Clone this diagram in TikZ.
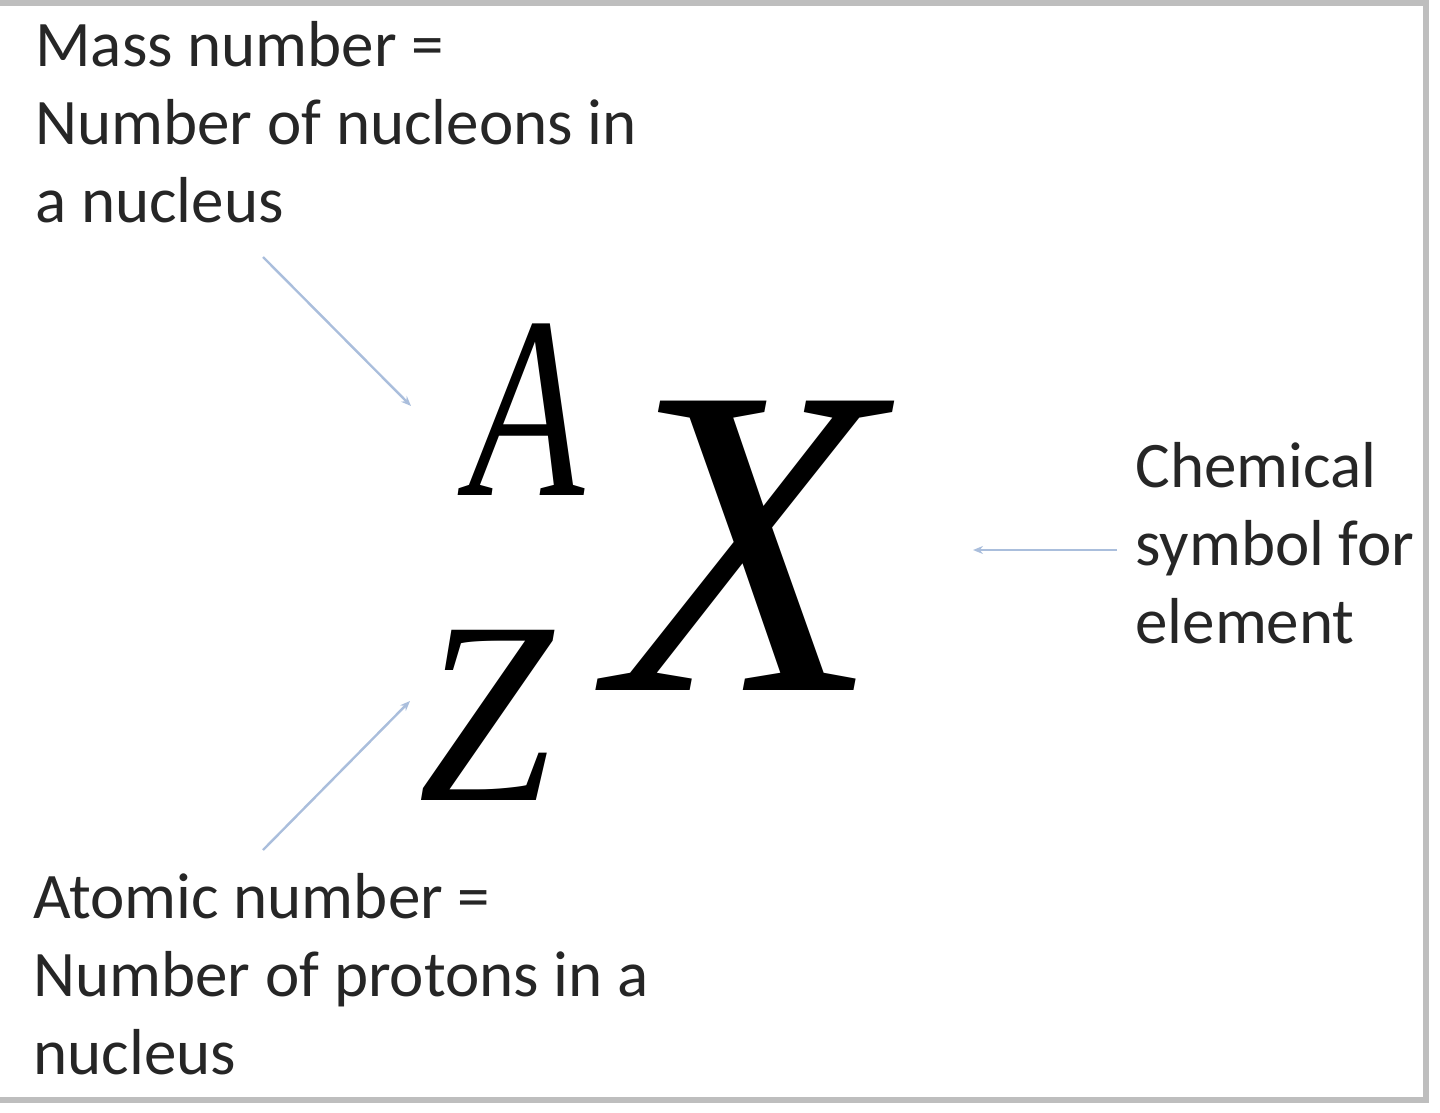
\documentclass[tikz,border=0pt]{standalone}
\usepackage{fontspec}
\setmainfont{Carlito}
\newfontfamily\symfont{Liberation Serif}
\usetikzlibrary{arrows.meta}
\definecolor{framegray}{RGB}{190,190,190}
\definecolor{pointer}{RGB}{170,190,220}

\begin{document}
\begin{tikzpicture}[x=0.5pt,y=-0.5pt,
	label/.style={anchor=base west, inner sep=0pt, align=left, text=black!85,
		font=\fontsize{32.5}{39}\selectfont},
	sym/.style={anchor=base west, inner sep=0pt, font=\symfont\itshape\fontsize{130}{130}\selectfont},
	bigsym/.style={anchor=base west, inner sep=0pt, font=\symfont\itshape\fontsize{221}{221}\selectfont},
	pointto/.style={draw=pointer, line width=1.2pt, -{Stealth[length=5pt,width=4pt]}}]
	\useasboundingbox (0,0) rectangle (1440,1113);
	\draw[framegray, line width=3pt] (0,3) -| (1426,1100) -- (0,1100);
	% symbols
	\node (A) at (468,495) [sym] {\scalebox{0.73}[1]{A}};
	\node (Z) at (418,800) [sym] {\scalebox{0.93}[1]{Z}};
	\node (X) at (610,690) [bigsym] {X};
	% labels (anchored at the last line)
	\node (mass) at (35,222) [label] {Mass number =\\Number of nucleons in\\a nucleus};
	\node (atomic) at (33,1074) [label] {Atomic number =\\Number of protons in a\\nucleus};
	\node (chem) at (1135,643) [label] {Chemical\\symbol for\\element};
	\coordinate (massfrom) at (263,257);
	\coordinate (massto) at (411,406);
	\coordinate (atomicfrom) at (263,850);
	\coordinate (atomicto) at (410,701);
	\coordinate (chemfrom) at (1117,550);
	\coordinate (chemto) at (973,550);
	\draw[pointto] (massfrom) -- (massto);
	\draw[pointto] (atomicfrom) -- (atomicto);
	\draw[pointto] (chemfrom) -- (chemto);
\end{tikzpicture}
\end{document}
